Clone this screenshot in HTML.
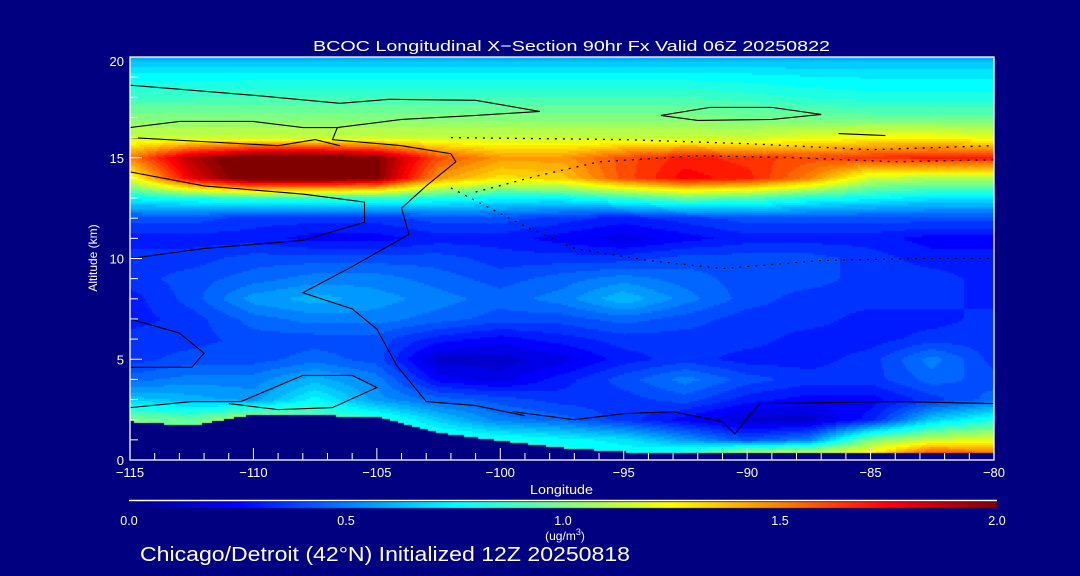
<!DOCTYPE html>
<html><head><meta charset="utf-8">
<style>
html,body{margin:0;padding:0;background:#000080;}
body{width:1080px;height:576px;overflow:hidden;position:relative;font-family:"Liberation Sans",sans-serif;color:#fff;}
#field{position:absolute;left:0;top:0;}
svg{position:absolute;left:0;top:0;}
</style></head>
<body>
<canvas id="field" width="1080" height="576"></canvas>
<svg id="ov" width="1080" height="576">
<text x="313" y="51" textLength="517" lengthAdjust="spacingAndGlyphs" font-size="15" fill="#fff">BCOC Longitudinal X−Section 90hr  Fx Valid 06Z 20250822</text>
<text x="530" y="494" textLength="63" lengthAdjust="spacingAndGlyphs" font-size="12.5" fill="#fff">Longitude</text>
<text transform="translate(97,258) rotate(-90)" text-anchor="middle" font-size="12" fill="#fff">Altitude (km)</text>
<text x="565" y="540" text-anchor="middle" font-size="12" fill="#fff">(ug/m<tspan dy="-5" font-size="9">3</tspan><tspan dy="5">)</tspan></text>
<text x="140" y="561" textLength="490" lengthAdjust="spacingAndGlyphs" font-size="20" fill="#fff">Chicago/Detroit (42°N) Initialized 12Z 20250818</text>
</svg>
<script>
// ---- data ----
const lons = [-115,-112.5,-110,-107.5,-105,-102.5,-100,-97.5,-95,-92.5,-90,-87.5,-85,-82.5,-80];
const alts = [0,1,2,3,4,5,6,7,8,9,10,11,12,13,14,15,16,17,18,19,20];
const terrain = [1.9,1.7,2.25,2.2,2.15,1.35,0.95,0.6,0.4,0.3,0.3,0.3,0.3,0.3,0.3];
const conc = [
[0.8,0.8,0.8,0.8,0.8,0.8,0.8,0.85,0.8,1.0,1.5,1.5,1.4,1.85,1.7],
[0.9,0.9,0.9,0.9,0.9,0.85,0.8,0.75,0.7,0.55,0.4,0.5,1.0,1.15,1.2],
[1.0,0.95,1.15,0.95,0.85,0.65,0.5,0.45,0.35,0.25,0.15,0.15,0.3,0.65,0.8],
[0.65,0.6,0.55,0.75,0.55,0.45,0.4,0.35,0.35,0.4,0.3,0.25,0.25,0.35,0.45],
[0.45,0.5,0.5,0.6,0.5,0.25,0.2,0.3,0.4,0.5,0.4,0.35,0.35,0.45,0.4],
[0.35,0.4,0.4,0.45,0.4,0.15,0.15,0.2,0.3,0.35,0.3,0.3,0.35,0.5,0.35],
[0.35,0.35,0.4,0.4,0.4,0.3,0.25,0.3,0.35,0.35,0.35,0.3,0.3,0.35,0.35],
[0.3,0.35,0.45,0.5,0.5,0.45,0.4,0.4,0.45,0.4,0.35,0.35,0.3,0.3,0.35],
[0.3,0.4,0.55,0.6,0.55,0.5,0.45,0.5,0.62,0.5,0.4,0.35,0.35,0.35,0.3],
[0.35,0.4,0.45,0.5,0.5,0.45,0.4,0.45,0.5,0.45,0.4,0.4,0.35,0.35,0.3],
[0.35,0.35,0.4,0.4,0.4,0.4,0.35,0.35,0.35,0.4,0.4,0.4,0.35,0.3,0.3],
[0.3,0.3,0.3,0.25,0.25,0.3,0.3,0.25,0.2,0.25,0.3,0.3,0.3,0.25,0.25],
[0.4,0.4,0.35,0.35,0.35,0.4,0.4,0.35,0.3,0.35,0.4,0.4,0.4,0.4,0.4],
[0.75,0.8,0.85,0.85,0.85,0.8,0.75,0.75,0.85,0.95,0.9,0.8,0.75,0.7,0.7],
[1.2,1.8,2.1,2.1,2.0,1.45,1.3,1.35,1.6,1.75,1.7,1.5,1.15,1.1,1.1],
[1.5,1.9,2.1,2.1,2.0,1.6,1.45,1.45,1.6,1.7,1.65,1.6,1.65,1.7,1.7],
[1.15,1.15,1.15,1.15,1.15,1.15,1.15,1.15,1.15,1.15,1.15,1.2,1.25,1.25,1.2],
[1.0,1.0,1.0,1.0,1.0,1.0,1.0,1.0,1.0,1.0,0.98,0.97,0.95,0.95,0.95],
[0.87,0.87,0.88,0.88,0.88,0.88,0.88,0.88,0.88,0.88,0.85,0.82,0.8,0.8,0.8],
[0.75,0.75,0.76,0.76,0.76,0.76,0.76,0.76,0.76,0.76,0.75,0.73,0.72,0.72,0.72],
[0.6,0.6,0.6,0.6,0.6,0.6,0.6,0.6,0.6,0.6,0.6,0.6,0.6,0.6,0.6]
];
const xTicks = [-115,-110,-105,-100,-95,-90,-85,-80];
const xTickLabels = ["−115","−110","−105","−100","−95","−90","−85","−80"];
const yTicks = [0,5,10,15,20];
const yTickLabels = ["0","5","10","15","20"];
const cbTicks = [0,0.5,1,1.5,2];
const cbTickLabels = ["0.0","0.5","1.0","1.5","2.0"];
// contour lines [lon, alt]
const contourSolid = [
 [[-115,18.6],[-110,18.1],[-106.5,17.7],[-104.5,17.9],[-101,17.85],[-98.4,17.3],[-101,17.1],[-104,16.9],[-106.6,16.5],[-106.8,15.9],[-104,15.6],[-102,15.2],[-101.8,14.8],[-103,13.6],[-104,12.5],[-103.7,11.2],[-106,9.6],[-108,8.3],[-106,7.5],[-105,6.5],[-104.2,4.7],[-103,2.9],[-101,2.7],[-99,2.2]],
 [[-115,16.5],[-113,16.8],[-110,16.8],[-108,16.5],[-106.5,16.5]],
 [[-115,16.0],[-112,15.8],[-109,15.6],[-107.5,15.9],[-106.5,15.6]],
 [[-115,14.3],[-112,13.6],[-108,13.2],[-105.5,12.8],[-105.5,11.8],[-108,10.9],[-112,10.5],[-115,10.0]],
 [[-115,7.0],[-113,6.3],[-112,5.3],[-112.5,4.6],[-115,4.6]],
 [[-115,2.6],[-112.5,2.9],[-110.5,2.9],[-108,4.2],[-106,4.2],[-105,3.6],[-106.8,2.6],[-109,2.5],[-111,2.8]],
 [[-99.5,2.4],[-97,2.0],[-95,2.3],[-93,2.4],[-91,1.9],[-90.5,1.3],[-89.5,2.8],[-84,2.9],[-80,2.8]],
 [[-93.5,17.1],[-91.5,17.5],[-89,17.5],[-87,17.15],[-89,16.9],[-92,16.85],[-93.5,17.1]],
 [[-86.3,16.2],[-84.4,16.1]]
];
const contourDotted = [
 [[-102,16.0],[-95,15.9],[-90,15.7],[-85,15.4],[-80,15.6]],
 [[-101,13.3],[-98.5,14.1],[-96,14.8],[-92,15.1],[-88,15.0],[-84,14.8],[-80,14.9]],
 [[-102,13.5],[-99,11.6],[-97,10.5],[-94,9.9],[-91,9.5],[-87,9.9],[-83,10.0],[-80,10.0]]
];
// ---- axes ----
const X0=130, X1=994, Y0=460, Y1=57;
function xs(lon){return X0+(lon+115)/35*(X1-X0);}
function ys(a){return Y0-a/20*(Y0-Y1);}
function jet(t){t=Math.max(0,Math.min(1,t));const c=v=>Math.round(255*Math.max(0,Math.min(1,v)));
 return [c(1.5-Math.abs(4*t-3)),c(1.5-Math.abs(4*t-2)),c(1.5-Math.abs(4*t-1))];}
function interp1(arr,xsArr,x){let i=0;while(i<xsArr.length-2&&x>xsArr[i+1])i++;
 const f=Math.max(0,Math.min(1,(x-xsArr[i])/(xsArr[i+1]-xsArr[i])));return arr[i]*(1-f)+arr[i+1]*f;}
function sample(lon,a){
 let i=0;while(i<lons.length-2&&lon>lons[i+1])i++;
 let j=0;while(j<alts.length-2&&a>alts[j+1])j++;
 const fx=Math.max(0,Math.min(1,(lon-lons[i])/(lons[i+1]-lons[i])));
 const fy=Math.max(0,Math.min(1,(a-alts[j])/(alts[j+1]-alts[j])));
 return conc[j][i]*(1-fx)*(1-fy)+conc[j][i+1]*fx*(1-fy)+conc[j+1][i]*(1-fx)*fy+conc[j+1][i+1]*fx*fy;}
const cv=document.getElementById('field');const ctx=cv.getContext('2d');
ctx.fillStyle='#000080';ctx.fillRect(0,0,1080,576);
const S=2;
for(let x=X0;x<X1;x+=S){const lon=-115+(x+S/2-X0)/(X1-X0)*35;const ter=interp1(terrain,lons,lon);
 for(let y=Y1;y<Y0;y+=S){const a=(Y0-(y+S/2))/(Y0-Y1)*20;
  if(a<ter){continue;}
  let v=sample(lon,a);v=Math.round(v/0.05)*0.05;
  const c=jet(v/2);ctx.fillStyle='rgb('+c[0]+','+c[1]+','+c[2]+')';ctx.fillRect(x,y,S,S);}}
// colorbar
for(let x=129;x<997;x++){const c=jet((x-129)/868);ctx.fillStyle='rgb('+c[0]+','+c[1]+','+c[2]+')';ctx.fillRect(x,502,1,6);}
const NS='http://www.w3.org/2000/svg';const svg=document.getElementById('ov');
function el(t,attrs){const e=document.createElementNS(NS,t);for(const k in attrs)e.setAttribute(k,attrs[k]);svg.appendChild(e);return e;}
contourSolid.forEach(l=>{const p=el('polyline',{points:l.map(q=>xs(q[0])+','+ys(q[1])).join(' '),fill:'none',stroke:'#000','stroke-width':1.1});
 
 });
contourDotted.forEach(l=>{const p=el('polyline',{points:l.map(q=>xs(q[0])+','+ys(q[1])).join(' '),fill:'none',stroke:'#000','stroke-width':1.3,'stroke-dasharray':'2,6'});
 
 });
// frame
const fr=el('rect',{x:X0,y:Y1,width:X1-X0,height:Y0-Y1,fill:'none',stroke:'#fff','stroke-width':1.3});


for(let l=-115;l<=-80;l++){const maj=(l%5===0);const t=el('line',{x1:xs(l),x2:xs(l),y1:Y0,y2:Y0-(maj?12:7),stroke:'#fff','stroke-width':1});
 
 }
for(let a=0;a<=20;a++){const maj=(a%5===0);const t=el('line',{x1:X0,x2:X0+(maj?12:8),y1:ys(a),y2:ys(a),stroke:'#fff','stroke-width':1});
 
 }
xTicks.forEach((v,i)=>{const t=el('text',{x:xs(v),y:477,'text-anchor':'middle','font-size':13,fill:'#fff'});t.textContent=xTickLabels[i];
 
 });
yTicks.forEach((v,i)=>{const t=el('text',{x:124,y:Math.max(ys(v)+5,66),'text-anchor':'end','font-size':13,fill:'#fff'});t.textContent=yTickLabels[i];
 
 });
const cl=el('line',{x1:129,x2:997,y1:500.5,y2:500.5,stroke:'#fff','stroke-width':1.5});


cbTicks.forEach((v,i)=>{const t=el('text',{x:129+v/2*868,y:525,'text-anchor':'middle','font-size':12.5,fill:'#fff'});t.textContent=cbTickLabels[i];
 
 });
</script>
</body></html>
